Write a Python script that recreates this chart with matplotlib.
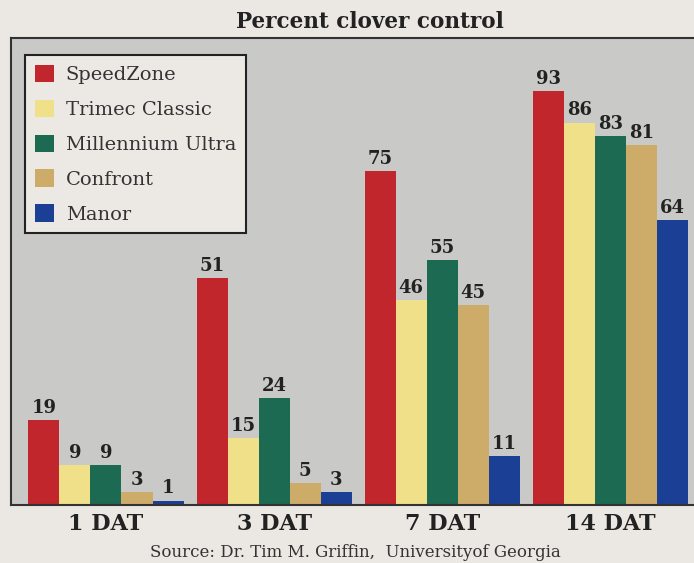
import numpy as np
import matplotlib.pyplot as plt
from matplotlib.patches import Patch

# data
groups = ['1 DAT', '3 DAT', '7 DAT', '14 DAT']
products = ['SpeedZone', 'Trimec Classic', 'Millennium Ultra', 'Confront', 'Manor']
speedzone = [19, 51, 75, 93]
trimec = [9, 15, 46, 86]
millennium = [9, 24, 55, 83]
confront = [3, 5, 45, 81]
manor = [1, 3, 11, 64]
colors = ['#c1262c', '#f1e08a', '#1d6a52', '#cdab68', '#1c3f96']

series = [speedzone, trimec, millennium, confront, manor]

plt.rcParams['font.family'] = 'DejaVu Serif'

fig = plt.figure(figsize=(6.94, 5.63), dpi=100, facecolor='#ebe8e3')
ax = fig.add_axes([11 / 694, 58 / 563, 685 / 694, 467 / 563])
ax.set_facecolor('#c9c9c7')

x = np.arange(len(groups))
width = 31 / 168
for i, (vals, col) in enumerate(zip(series, colors)):
    pos = x + (i - 2) * width
    ax.bar(pos, vals, width=width, color=col, label=products[i])
    for p, v in zip(pos, vals):
        ax.text(p, v + 0.7, str(v), ha='center', va='bottom',
                fontsize=13, fontweight='bold', color='#222222')

ax.set_xlim(-0.565, 3.51)
ax.set_ylim(0, 105)
ax.set_yticks([])
ax.set_xticks(x)
ax.set_xticklabels(groups, fontsize=16, fontweight='bold', color='#222222')
ax.tick_params(axis='x', length=0, pad=6)
for s in ax.spines.values():
    s.set_color('#333333')
    s.set_linewidth(1.5)

handles = [Patch(facecolor=c, label=p) for c, p in zip(colors, products)]
leg = ax.legend(handles=handles, loc='upper left', bbox_to_anchor=(14 / 685, 450 / 467),
                borderaxespad=0, fancybox=False, edgecolor='#222222',
                facecolor='#ece9e4', framealpha=1, fontsize=14,
                handlelength=1.0, handleheight=1.0, labelspacing=0.8,
                borderpad=0.5, handletextpad=0.6)
leg.get_frame().set_linewidth(1.5)
for t in leg.get_texts():
    t.set_color('#333333')

fig.text(0.533, 0.961, 'Percent clover control', ha='center', va='center',
         fontsize=15.5, fontweight='bold', color='#222222')
fig.text(0.512, 0.0195, 'Source: Dr. Tim M. Griffin,  Universityof Georgia',
         ha='center', va='center', fontsize=12, color='#333333')

fig.savefig('out.png', dpi=100, facecolor=fig.get_facecolor())
